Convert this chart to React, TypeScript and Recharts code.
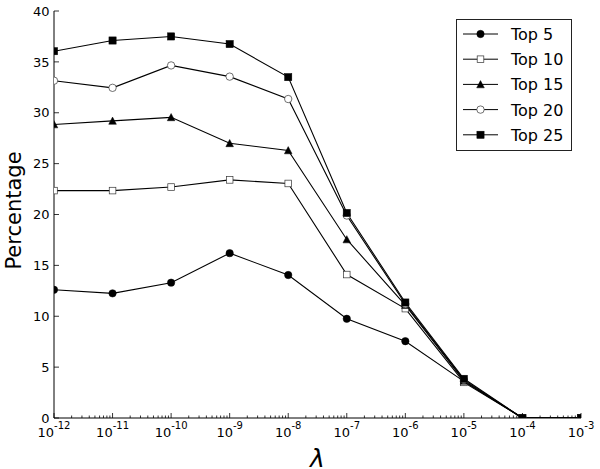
import React from 'react';
import { LineChart, Line, XAxis, YAxis, Legend } from 'recharts';

// lambda values (log axis) and percentage per top-k
const lambdas = [1e-12, 1e-11, 1e-10, 1e-9, 1e-8, 1e-7, 1e-6, 1e-5, 1e-4, 1e-3];
const top5 = [12.6, 12.25, 13.3, 16.2, 14.05, 9.75, 7.55, 3.6, 0, 0];
const top10 = [22.35, 22.35, 22.7, 23.4, 23.05, 14.1, 10.75, 3.5, 0, 0];
const top15 = [28.85, 29.2, 29.55, 27.0, 26.3, 17.55, 11.1, 3.65, 0, 0];
const top20 = [33.15, 32.45, 34.65, 33.55, 31.35, 19.9, 11.2, 3.75, 0, 0];
const top25 = [36.05, 37.1, 37.5, 36.75, 33.5, 20.15, 11.35, 3.85, 0, 0];

const yTicks = [0, 5, 10, 15, 20, 25, 30, 35, 40];
const majorExps = [-12, -11, -10, -9, -8, -7, -6, -5, -4, -3];

const seriesList = [
  { key: 'top5', name: 'Top 5', shape: 'circle' },
  { key: 'top10', name: 'Top 10', shape: 'openSquare' },
  { key: 'top15', name: 'Top 15', shape: 'triangle' },
  { key: 'top20', name: 'Top 20', shape: 'openCircle' },
  { key: 'top25', name: 'Top 25', shape: 'square' },
];

const data = lambdas.map((l, i) => ({
  lambda: l,
  top5: top5[i],
  top10: top10[i],
  top15: top15[i],
  top20: top20[i],
  top25: top25[i],
}));

// major ticks at each decade plus minor 2..9 ticks like matplotlib
const xTicks: number[] = [];
majorExps.forEach((e) => {
  xTicks.push(Math.pow(10, e));
  if (e < -3) for (let k = 2; k <= 9; k++) xTicks.push(k * Math.pow(10, e));
});

const FONT = '"DejaVu Sans", sans-serif';
const W = 600;
const H = 469;
const M = { top: 11, right: 19, bottom: 21, left: 0 };
const Y_W = 54;
const X_H = 30;
const PLOT = {
  x: M.left + Y_W,
  y: M.top,
  w: W - M.right - (M.left + Y_W),
  h: H - M.bottom - X_H - M.top,
};

const isMajor = (v: number) => {
  const lg = Math.log10(v);
  return Math.abs(lg - Math.round(lg)) < 1e-6;
};

const Marker = ({ shape, cx, cy }: { shape: string; cx: number; cy: number }) => {
  if (cx == null || cy == null) return null;
  switch (shape) {
    case 'circle':
      return <circle cx={cx} cy={cy} r={3.7} fill="#000" stroke="#000" strokeWidth={0.5} />;
    case 'openSquare':
      return <rect x={cx - 3.3} y={cy - 3.3} width={6.6} height={6.6} fill="#fff" stroke="#333" strokeWidth={0.7} />;
    case 'triangle':
      return (
        <polygon
          points={`${cx},${cy - 3.8} ${cx - 3.8},${cy + 3.4} ${cx + 3.8},${cy + 3.4}`}
          fill="#000"
          stroke="#000"
          strokeWidth={0.5}
        />
      );
    case 'openCircle':
      return <circle cx={cx} cy={cy} r={3.7} fill="#fff" stroke="#333" strokeWidth={0.7} />;
    default:
      return <rect x={cx - 3.6} y={cy - 3.6} width={7.2} height={7.2} fill="#000" stroke="#000" strokeWidth={0.5} />;
  }
};

// dot clipped to the plot area, like matplotlib markers at the spines
const ClippedDot = ({ id, shape, cx, cy }: { id: string; shape: string; cx: number; cy: number }) => (
  <g>
    <defs>
      <clipPath id={id}>
        <rect x={PLOT.x} y={PLOT.y} width={PLOT.w} height={PLOT.h} />
      </clipPath>
    </defs>
    <g clipPath={`url(#${id})`}>
      <Marker shape={shape} cx={cx} cy={cy} />
    </g>
  </g>
);

const BottomTick = (props: any) => {
  const { x, y, payload } = props;
  const v = payload.value;
  const major = isMajor(v);
  const exp = Math.round(Math.log10(v));
  return (
    <g>
      <line x1={x} x2={x} y1={y} y2={y - (major ? 5 : 2.5)} stroke="#000" strokeWidth={0.8} />
      {major && (
        <text x={x} y={y + 19} textAnchor="middle" fontSize={13} fontFamily={FONT} fill="#000">
          10
          <tspan dy={-8} fontSize={10}>{exp}</tspan>
        </text>
      )}
    </g>
  );
};

const TopTick = (props: any) => {
  const { x, y, payload } = props;
  const major = isMajor(payload.value);
  return <line x1={x} x2={x} y1={y} y2={y + (major ? 5 : 2.5)} stroke="#000" strokeWidth={0.8} />;
};

const LeftTick = (props: any) => {
  const { x, y, payload } = props;
  return (
    <g>
      <line x1={x} x2={x + 5} y1={y} y2={y} stroke="#000" strokeWidth={0.8} />
      <text x={x - 4.5} y={y + 4.7} textAnchor="end" fontSize={13} fontFamily={FONT} fill="#000">
        {payload.value}
      </text>
    </g>
  );
};

const RightTick = (props: any) => {
  const { x, y } = props;
  return <line x1={x} x2={x - 5} y1={y} y2={y} stroke="#000" strokeWidth={0.8} />;
};

const LegendBox = () => (
  <svg width={117} height={133} style={{ display: 'block' }}>
    <rect x={0.5} y={0.5} width={115} height={131} fill="#fff" stroke="#222" strokeWidth={1} />
    {seriesList.map((s, i) => {
      const cy = 15 + i * 25.2;
      return (
        <g key={s.key}>
          <line x1={7} x2={42} y1={cy} y2={cy} stroke="#000" strokeWidth={1} />
          <Marker shape={s.shape} cx={24.5} cy={cy} />
          <text x={55} y={cy + 6} fontSize={16} fontFamily={FONT} fill="#000">
            {s.name}
          </text>
        </g>
      );
    })}
  </svg>
);

export default function App() {
  return (
    <div style={{ position: 'absolute', left: 0, top: 0, width: W, height: H, background: '#fff', overflow: 'hidden' }}>
      <LineChart width={W} height={H} data={data} margin={M}>
        <XAxis
          dataKey="lambda"
          type="number"
          scale="log"
          domain={[1e-12, 1e-3]}
          allowDataOverflow
          ticks={xTicks}
          interval={0}
          tick={<BottomTick />}
          tickLine={false}
          tickSize={0}
          tickMargin={0}
          height={X_H}
          axisLine={{ stroke: '#000', strokeWidth: 1 }}
          label={(p: any) => {
            const vb = p.viewBox || {};
            return (
              <text
                x={vb.x + vb.width / 2}
                y={vb.y + 49}
                textAnchor="middle"
                fontSize={25}
                fontStyle="italic"
                fontFamily={FONT}
                fill="#000"
              >
                λ
              </text>
            );
          }}
        />
        <XAxis
          xAxisId="top"
          orientation="top"
          dataKey="lambda"
          type="number"
          scale="log"
          domain={[1e-12, 1e-3]}
          allowDataOverflow
          ticks={xTicks}
          interval={0}
          tick={<TopTick />}
          tickLine={false}
          tickSize={0}
          tickMargin={0}
          height={0}
          axisLine={{ stroke: '#000', strokeWidth: 1 }}
        />
        <YAxis
          type="number"
          domain={[0, 40]}
          allowDataOverflow
          ticks={yTicks}
          interval={0}
          tick={<LeftTick />}
          tickLine={false}
          tickSize={0}
          tickMargin={0}
          width={Y_W}
          axisLine={{ stroke: '#000', strokeWidth: 1 }}
          label={(p: any) => {
            const vb = p.viewBox || {};
            const cx = vb.x + 21;
            const cy = vb.y + vb.height / 2 - 4;
            return (
              <text
                x={cx}
                y={cy}
                transform={`rotate(-90 ${cx} ${cy})`}
                textAnchor="middle"
                fontSize={21}
                fontFamily={FONT}
                fill="#000"
              >
                Percentage
              </text>
            );
          }}
        />
        <YAxis
          yAxisId="right"
          orientation="right"
          type="number"
          domain={[0, 40]}
          allowDataOverflow
          ticks={yTicks}
          interval={0}
          tick={<RightTick />}
          tickLine={false}
          tickSize={0}
          tickMargin={0}
          width={0}
          axisLine={{ stroke: '#000', strokeWidth: 1 }}
        />
        {seriesList.map((s) => (
          <Line
            key={s.key}
            dataKey={s.key}
            name={s.name}
            type="linear"
            stroke="#000"
            strokeWidth={1.1}
            isAnimationActive={false}
            activeDot={false}
            dot={(p: any) => (
              <ClippedDot
                key={`${s.key}-${p.index}`}
                id={`dotclip-${s.key}-${p.index}`}
                shape={s.shape}
                cx={p.cx}
                cy={p.cy}
              />
            )}
          />
        ))}
        <Legend
          layout="vertical"
          align="center"
          verticalAlign="middle"
          wrapperStyle={{ left: 456, top: 19, width: 117, height: 133 }}
          content={() => <LegendBox />}
        />
      </LineChart>
    </div>
  );
}
